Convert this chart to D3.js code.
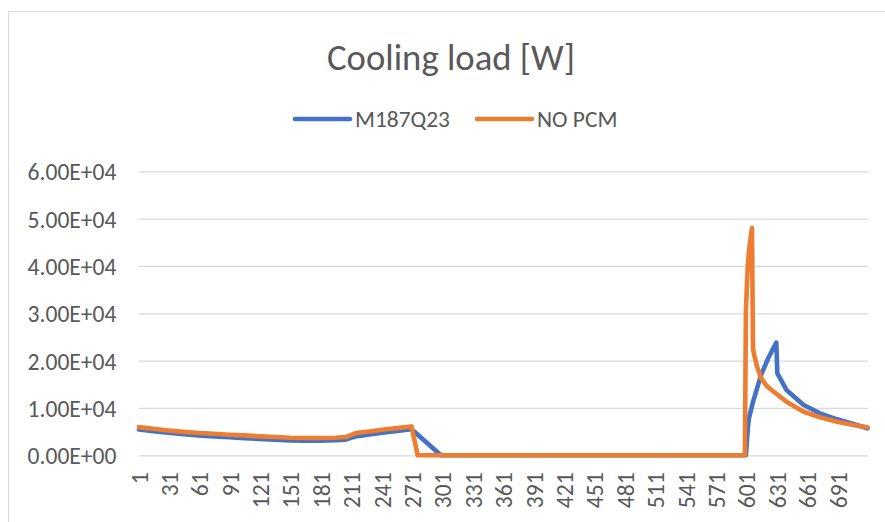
<!DOCTYPE html>
<html>
<head>
<meta charset="utf-8">
<script src="https://cdn.jsdelivr.net/npm/d3@7"></script>
<style>
  body { margin: 0; background: #fff; }
  text { font-family: Carlito, "Open Sans", sans-serif; fill: #595959; }
</style>
</head>
<body>
<svg id="chartsvg" width="885" height="522"></svg>
<script>
var vis = d3.select("#chartsvg");

// hours 1..720 on the category axis
const categories = d3.range(1, 721);
const tickLabels = [1, 31, 61, 91, 121, 151, 181, 211, 241, 271, 301, 331, 361, 391, 421, 451, 481, 511, 541, 571, 601, 631, 661, 691];
const yTicks = [0, 10000, 20000, 30000, 40000, 50000, 60000];
const seriesNames = ["M187Q23", "NO PCM"];
const seriesColors = ["#4472C4", "#ED7D31"];

// [hour, W]
const m187q23 = [
  [1, 5450], [15, 5100], [30, 4750], [45, 4450], [60, 4200], [75, 4000], [90, 3800],
  [105, 3600], [120, 3450], [135, 3300], [150, 3150], [165, 3100], [180, 3100],
  [195, 3200], [205, 3300], [215, 4000], [230, 4450], [245, 4900], [260, 5250],
  [270, 5500], [299, 0], [600, 0], [602, 6000], [603, 7800], [607, 11300],
  [615, 17000], [622, 20500], [630, 23800], [631, 17300], [640, 13800],
  [657, 10630], [673, 8870], [690, 7600], [706, 6610], [720, 5700]
];
const noPcm = [
  [1, 5950], [15, 5600], [30, 5250], [45, 4950], [60, 4700], [75, 4550], [90, 4350],
  [105, 4200], [120, 4000], [135, 3850], [150, 3700], [165, 3650], [180, 3650],
  [195, 3700], [205, 3850], [215, 4700], [230, 5100], [245, 5500], [260, 5850],
  [270, 6100], [276, 0], [599, 0], [600, 30500], [601, 36000], [602, 40500],
  [603, 43000], [604, 45000], [605, 46500], [606, 48000], [607, 22600], [608, 21300],
  [609, 20500], [611, 18700], [615, 16300], [620, 14800], [624, 14000], [640, 11330],
  [657, 9210], [673, 8030], [690, 7100], [706, 6400], [720, 5920]
];

const plot = { left: 138.5, right: 868, top: 171.3, bottom: 455.3 };

function sci(v) {
    let [m, e] = v.toExponential(2).split("e");
    let sign = e[0] === "-" ? "-" : "+";
    return m + "E" + sign + String(Math.abs(+e)).padStart(2, "0");
}

// font size that gives a text the wanted width
function fitSize(str, base, target) {
    let t = vis.append("text").attr("font-size", base).text(str);
    let w = t.node().getComputedTextLength();
    t.remove();
    return base * target / w;
}

var tickSize = fitSize("6.00E+04", 20, 89);
var titleSize = fitSize("Cooling load [W]", 30, 248);
var legendSize = fitSize("M187Q23", 20, 95);

// chart area border
vis.append("rect")
    .attr("x", 8.5).attr("y", 11.5)
    .attr("width", 1000).attr("height", 1000)
    .attr("fill", "#fff").attr("stroke", "#d9d9d9").attr("stroke-width", 1);

var x = d3.scaleBand().domain(categories).range([plot.left, plot.right]).paddingInner(0).paddingOuter(0);
var y = d3.scaleLinear().domain([0, 60000]).range([plot.bottom, plot.top]);
var cx = d => x(d) + x.bandwidth() / 2;

// y axis + gridlines
var yAxis = vis.append("g").attr("class", "y-axis")
    .attr("transform", `translate(${plot.left},0)`)
    .call(d3.axisLeft(y).tickValues(yTicks).tickFormat(sci).tickSize(-(plot.right - plot.left)).tickPadding(22));
yAxis.select(".domain").remove();
yAxis.selectAll("line").attr("stroke", "#d9d9d9").attr("stroke-width", 1.2);
yAxis.selectAll("text")
    .attr("font-size", tickSize)
    .attr("font-family", null)
    .attr("fill", "#595959")
    .attr("dy", "0.36em");

// x axis labels, rotated
var xAxis = vis.append("g").attr("class", "x-axis")
    .attr("transform", `translate(0,${plot.bottom})`)
    .call(d3.axisBottom(x).tickValues(tickLabels).tickSize(0));
xAxis.select(".domain").remove();
xAxis.selectAll("text")
    .attr("font-size", tickSize)
    .attr("font-family", null)
    .attr("fill", "#595959")
    .attr("text-anchor", "end")
    .attr("transform", "rotate(-90)")
    .attr("x", -17)
    .attr("y", 0)
    .attr("dy", "0.36em");

// lines
var line = d3.line().x(d => cx(d[0])).y(d => y(d[1]));
[m187q23, noPcm].forEach((s, i) => {
    vis.append("path")
        .datum(s)
        .attr("d", line)
        .attr("fill", "none")
        .attr("stroke", seriesColors[i])
        .attr("stroke-width", 4.6)
        .attr("stroke-linejoin", "round")
        .attr("stroke-linecap", "round");
});

// title
vis.append("text")
    .attr("x", 451).attr("y", 70)
    .attr("text-anchor", "middle")
    .attr("font-size", titleSize)
    .text("Cooling load [W]");

// legend
var legendX = [295, 477];
seriesNames.forEach((name, i) => {
    var g = vis.append("g").attr("transform", `translate(${legendX[i]},119)`);
    g.append("line")
        .attr("x1", 0).attr("x2", 55).attr("y1", 0).attr("y2", 0)
        .attr("stroke", seriesColors[i]).attr("stroke-width", 4.6)
        .attr("stroke-linecap", "round");
    g.append("text")
        .attr("x", 60).attr("y", 0).attr("dy", "0.36em")
        .attr("font-size", legendSize)
        .text(name);
});
</script>
</body>
</html>
